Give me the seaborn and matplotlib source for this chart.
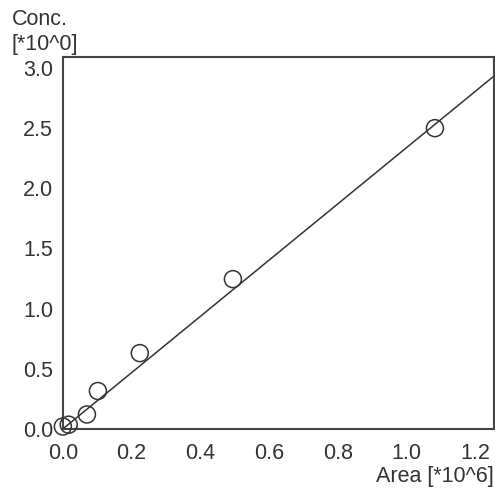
import matplotlib
matplotlib.use('Agg')
import matplotlib.pyplot as plt
import pandas as pd
import seaborn as sns

# calibration points
area = [0.000, 0.017, 0.070, 0.102, 0.224, 0.495, 1.083]
conc = [0.02, 0.035, 0.12, 0.315, 0.63, 1.245, 2.50]

# fitted calibration line (end points)
fit_area = [0.0, 1.26]
fit_conc = [0.0, 2.945]

xticks = [0.0, 0.2, 0.4, 0.6, 0.8, 1.0, 1.2]
yticks = [0.0, 0.5, 1.0, 1.5, 2.0, 2.5, 3.0]

sns.set_style('white')
plt.rcParams['font.family'] = ['Liberation Sans', 'DejaVu Sans']

puntos = pd.DataFrame({'area': area, 'conc': conc})
recta = pd.DataFrame({'area': fit_area, 'conc': fit_conc})

fig = plt.figure(figsize=(4.95, 4.93), dpi=100)
ax = fig.add_axes([0.127, 0.130, 0.871, 0.754])

sns.lineplot(data=recta, x='area', y='conc', ax=ax, color='#333333', linewidth=1.1)
sns.scatterplot(data=puntos, x='area', y='conc', ax=ax, s=150, marker='o',
                facecolor='none', edgecolor='#333333', linewidth=1.1, zorder=3,
                clip_on=False)

ax.set_xlim(0, 1.255)
ax.set_ylim(0, 3.09)
ax.set_xticks(xticks)
ax.set_yticks(yticks)
ax.set_xticklabels([f'{t:.1f}' for t in xticks])
ax.set_yticklabels([f'{t:.1f}' for t in yticks])
ax.tick_params(length=0, labelsize=15.5, colors='#333333')
ax.tick_params(axis='x', pad=10)
ax.tick_params(axis='y', pad=7)
ax.set_xlabel('')
ax.set_ylabel('')

for s in ax.spines.values():
    s.set_visible(True)
    s.set_color('#444444')
    s.set_linewidth(1.5)

fig.text(0.023, 0.981, 'Conc.\n[*10^0]', ha='left', va='top', fontsize=15.5,
         color='#333333', linespacing=1.2)
fig.text(0.997, 0.054, 'Area [*10^6]', ha='right', va='top', fontsize=15.5,
         color='#333333')

fig.savefig('out.png', dpi=100, facecolor='white')
